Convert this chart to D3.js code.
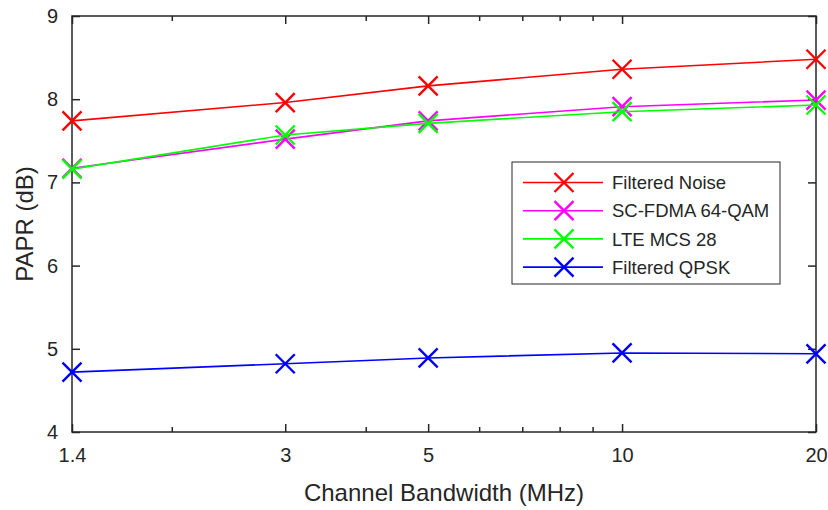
<!DOCTYPE html>
<html>
<head>
<meta charset="utf-8">
<script src="https://cdn.jsdelivr.net/npm/d3@7"></script>
<style>
  html, body { margin: 0; padding: 0; background: #fff; }
  svg { display: block; }
  text { font-family: Arial, "Liberation Sans", Helvetica, sans-serif; fill: #262626; }
</style>
</head>
<body>
<svg id="chart" width="828" height="510"></svg>
<script>
// Channel bandwidths (MHz) and PAPR (dB) per waveform
const bandwidth = [1.4, 3, 5, 10, 20];
const filteredNoise = [7.74, 7.96, 8.16, 8.36, 8.48];
const scFdma64Qam = [7.17, 7.52, 7.74, 7.91, 7.99];
const lteMcs28 = [7.16, 7.57, 7.71, 7.85, 7.93];
const filteredQpsk = [4.72, 4.82, 4.89, 4.95, 4.94];

const seriesNames = ["Filtered Noise", "SC-FDMA 64-QAM", "LTE MCS 28", "Filtered QPSK"];
const seriesValues = [filteredNoise, scFdma64Qam, lteMcs28, filteredQpsk];
const seriesColors = ["#ff0000", "#ff00ff", "#00ff00", "#0000ff"];

const xTicks = [1.4, 3, 5, 10, 20];
const xMinorTicks = [2, 4, 6, 7, 8, 9];
const yTicks = [4, 5, 6, 7, 8, 9];

const svg = d3.select("#chart");
const margin = { left: 72, top: 16, right: 12, bottom: 78 };
const W = 828, H = 510;
const pw = W - margin.left - margin.right;
const ph = H - margin.top - margin.bottom;

const x = d3.scaleLog().domain([1.4, 20]).range([0, pw]);
const y = d3.scaleLinear().domain([4, 9]).range([ph, 0]);

const g = svg.append("g").attr("transform", `translate(${margin.left},${margin.top})`);

const axisColor = "#262626";

function styleAxis(sel) {
  sel.select(".domain").remove();
  sel.selectAll(".tick line").attr("stroke", axisColor).attr("stroke-width", 1.5);
  sel.selectAll(".tick text").style("font-size", "20px").attr("fill", axisColor);
}

// Bottom axis: major ticks with labels, minor ticks without
const xb = g.append("g").attr("transform", `translate(0,${ph})`)
  .call(d3.axisBottom(x).tickValues(xTicks).tickFormat(d3.format("")).tickSizeInner(-8).tickSizeOuter(0).tickPadding(16));
styleAxis(xb);
xb.selectAll(".tick text").attr("dy", "0.71em");
const xbm = g.append("g").attr("transform", `translate(0,${ph})`)
  .call(d3.axisBottom(x).tickValues(xMinorTicks).tickFormat("").tickSizeInner(-5).tickSizeOuter(0));
styleAxis(xbm);

// Top axis ticks
const xt = g.append("g")
  .call(d3.axisTop(x).tickValues(xTicks).tickFormat("").tickSizeInner(-8).tickSizeOuter(0));
styleAxis(xt);
const xtm = g.append("g")
  .call(d3.axisTop(x).tickValues(xMinorTicks).tickFormat("").tickSizeInner(-5).tickSizeOuter(0));
styleAxis(xtm);

// Left and right axes
const yl = g.append("g")
  .call(d3.axisLeft(y).tickValues(yTicks).tickFormat(d3.format("d")).tickSizeInner(-8).tickSizeOuter(0).tickPadding(14));
styleAxis(yl);
const yr = g.append("g").attr("transform", `translate(${pw},0)`)
  .call(d3.axisRight(y).tickValues(yTicks).tickFormat("").tickSizeInner(-8).tickSizeOuter(0));
styleAxis(yr);

// Axes box
g.append("rect").attr("x", 0).attr("y", 0).attr("width", pw).attr("height", ph)
  .attr("fill", "none").attr("stroke", axisColor).attr("stroke-width", 1.5);

// Axis labels
svg.append("text")
  .attr("x", margin.left + pw / 2).attr("y", 501)
  .attr("text-anchor", "middle").style("font-size", "24px")
  .text("Channel Bandwidth (MHz)");
svg.append("text")
  .attr("transform", `translate(33,${margin.top + ph / 2}) rotate(-90)`)
  .attr("text-anchor", "middle").style("font-size", "24px")
  .text("PAPR (dB)");

// Cross marker path
const mk = 9.5;
const crossPath = `M${-mk},${-mk}L${mk},${mk}M${-mk},${mk}L${mk},${-mk}`;

const line = d3.line().x(d => x(d[0])).y(d => y(d[1]));

seriesValues.forEach((vals, i) => {
  const pts = bandwidth.map((b, j) => [b, vals[j]]);
  const sg = g.append("g");
  sg.append("path").datum(pts).attr("d", line)
    .attr("fill", "none").attr("stroke", seriesColors[i]).attr("stroke-width", 1.6);
  sg.selectAll("path.mk").data(pts).enter().append("path").attr("class", "mk")
    .attr("transform", d => `translate(${x(d[0])},${y(d[1])})`)
    .attr("d", crossPath)
    .attr("fill", "none").attr("stroke", seriesColors[i]).attr("stroke-width", 2.4);
});

// Legend
const lg = svg.append("g").attr("transform", "translate(512,162)");
lg.append("rect").attr("x", 0).attr("y", 0).attr("width", 268).attr("height", 122)
  .attr("fill", "#fff").attr("stroke", axisColor).attr("stroke-width", 1);
seriesNames.forEach((name, i) => {
  const ry = 20.5 + i * 28.2;
  lg.append("line").attr("x1", 11).attr("x2", 91).attr("y1", ry).attr("y2", ry)
    .attr("stroke", seriesColors[i]).attr("stroke-width", 1.6);
  lg.append("path").attr("transform", `translate(52,${ry})`).attr("d", crossPath)
    .attr("fill", "none").attr("stroke", seriesColors[i]).attr("stroke-width", 2.4);
  lg.append("text").attr("x", 100).attr("y", ry).attr("dy", "0.36em")
    .style("font-size", "18.5px").text(name);
});
</script>
</body>
</html>
